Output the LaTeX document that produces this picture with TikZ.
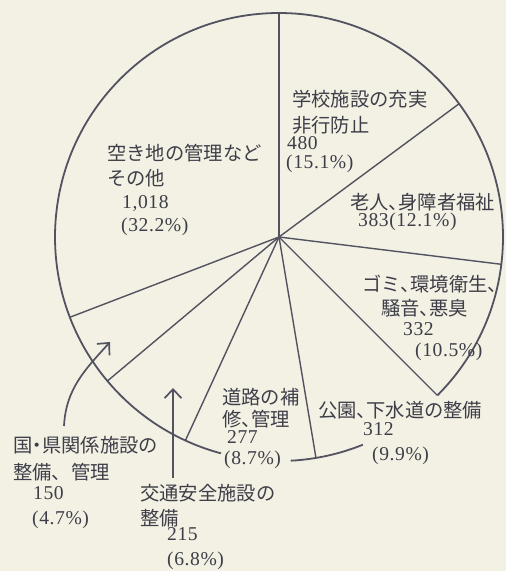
\documentclass[tikz,border=0pt]{standalone}
\usepackage{fontspec}
\usetikzlibrary{arrows.meta,calc}
\newfontfamily\jpf{Noto Sans CJK JP}
\newfontfamily\numf{Liberation Serif}[LetterSpace=3]
\newcommand\hc{、\kern-.5em}
\newcommand\hd{\kern-.25em・\kern-.25em}
\definecolor{bg}{RGB}{243,241,228}
\definecolor{ln}{RGB}{82,82,96}
\definecolor{txt}{RGB}{62,62,72}
\tikzset{
  jp/.style={font=\jpf\fontsize{19.3}{22}\selectfont, text=txt, inner sep=0pt, anchor=west},
  nm/.style={font=\numf\fontsize{19.6}{22}\selectfont, text=txt, inner sep=0pt, anchor=west, text height=0.66em, text depth=0.12em},
  rim/.style={draw=ln, line width=1.8pt},
  spoke/.style={draw=ln, line width=1.4pt},
  pointer/.style={draw=ln, line width=1.7pt, -{Straight Barb[length=9pt,width=17pt,line width=1.7pt]}}
}
\begin{document}
\begin{tikzpicture}[x=1pt,y=1pt]
\fill[bg] (0,0) rectangle (506,571);
\useasboundingbox (0,0) rectangle (506,571);
\coordinate (C) at (279,334);
% spokes
\foreach \a/\n in {90/s8,36.5/s1,-7/s2,-45/s3,-80.5/s4,-114.7/s5,-140/s6,-159/s7}{
  \coordinate (\n) at ($(C)+(\a:224)$);
}
\foreach \n in {s8,s1,s2,s3,s4,s5,s6,s7}{ \draw[spoke] (C) -- (\n); }
% rim with gaps
\draw[rim] (s3) arc[start angle=-45, end angle=255, radius=224];
\draw[rim] ($(C)+(-87:224)$) arc[start angle=-87, end angle=-68, radius=224];
% labels
\node[jp] (t1a) at (292,472) {学校施設の充実};
\node[jp] (t1b) at (292,446) {非行防止};
\node[nm] (t1c) at (287,424) {480};
\node[nm] (t1d) at (286,405) {(15.1\%)};
\node[jp] (t8a) at (107,418) {空き地の管理など};
\node[jp] (t8b) at (107,393) {その他};
\node[nm] (t8c) at (122,365) {1,018};
\node[nm] (t8d) at (121,342) {(32.2\%)};
\node[jp] (t2a) at (350,369) {老人\hc 身障者福祉};
\node[nm] (t2b) at (358,347) {383(12.1\%)};
\node[jp] (t3a) at (362,287) {ゴミ\hc 環境衛生、};
\node[jp] (t3b) at (381,263) {騒音\hc 悪臭};
\node[nm] (t3c) at (403,238) {332};
\node[nm] (t3d) at (415,217) {(10.5\%)};
\node[jp] (t4a) at (318,161) {公園\hc 下水道の整備};
\node[nm] (t4b) at (363,138) {312};
\node[nm] (t4c) at (372,113) {(9.9\%)};
\node[jp] (t5a) at (222,174) {道路の補};
\node[jp] (t5b) at (222,152) {修\hc 管理};
\node[nm] (t5c) at (227,130) {277};
\node[nm] (t5d) at (224,109) {(8.7\%)};
\node[jp] (t7a) at (13,126) {国\hd 県関係施設の};
\node[jp] (t7b) at (13,99) {整備、管理};
\node[nm] (t7c) at (33,74) {150};
\node[nm] (t7d) at (32,49) {(4.7\%)};
\node[jp] (t6a) at (140,78) {交通安全施設の};
\node[jp] (t6b) at (140,53) {整備};
\node[nm] (t6c) at (167,33) {215};
\node[nm] (t6d) at (167,8) {(6.8\%)};
% pointers
\coordinate (p7s) at (64,145);
\coordinate (p7e) at (110,229);
\coordinate (p6s) at (173,93);
\coordinate (p6e) at (173,183);
\draw[pointer] (p7s) to[out=87, in=228] (p7e);
\draw[pointer] (p6s) -- (p6e);
\end{tikzpicture}
\end{document}
